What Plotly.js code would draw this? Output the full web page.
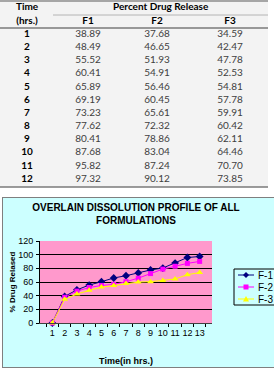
<!DOCTYPE html>
<html>
<head>
<meta charset="utf-8">
<script src="https://cdn.plot.ly/plotly-3.0.1.min.js"></script>
<style>
  html, body { margin: 0; padding: 0; background: #ffffff; width: 274px; height: 368px; overflow: hidden; }
  #table { position: absolute; left: 0; top: 0; width: 274px; height: 192px; }
  #chart { position: absolute; left: 2px; top: 197px; width: 273px; height: 169px; border: 1px solid #7f7f7f; }
</style>
</head>
<body>
<div id="table"></div>
<div id="chart"></div>
<script>
// ---- data ----
const hours = [1, 2, 3, 4, 5, 6, 7, 8, 9, 10, 11, 12];
const seriesHeaders = ['F1', 'F2', 'F3'];
const f1 = [38.89, 48.49, 55.52, 60.41, 65.89, 69.19, 73.23, 77.62, 80.41, 87.68, 95.82, 97.32];
const f2 = [37.68, 46.65, 51.93, 54.91, 56.46, 60.45, 65.61, 72.32, 78.86, 83.04, 87.24, 90.12];
const f3 = [34.59, 42.47, 47.78, 52.53, 54.81, 57.78, 59.91, 60.42, 62.11, 64.46, 70.70, 73.85];
const startRelease = [0];
const chartCategories = ['1', '2', '3', '4', '5', '6', '7', '8', '9', '10', '11', '12', '13'];
const legendLabels = ['F-1', 'F-2', 'F-3'];
const yTicks = [0, 20, 40, 60, 80, 100, 120];
const tableTitles = ['Time', '(hrs.)', 'Percent Drug Release'];
const chartTitle = 'OVERLAIN DISSOLUTION PROFILE OF ALL<br>FORMULATIONS';
const xTitle = 'Time(in hrs.)';
const yTitle = '% Drug Relased';

// ---- table ----
const TW = 274, TH = 192;
const tx = x => x / TW, ty = y => 1 - y / TH;
const rule = (x0, x1, y, color, width) => ({
  type: 'line', xref: 'paper', yref: 'paper',
  x0: tx(x0), x1: tx(x1), y0: ty(y), y1: ty(y),
  line: { color: color, width: width }
});
const tableFont = 'Lato, "Open Sans", sans-serif';

const tableTrace = {
  type: 'table',
  domain: { x: [0, tx(268)], y: [ty(191), ty(8)] },
  columnwidth: [54, 68, 70, 76],
  header: {
    values: [tableTitles[1]].concat(seriesHeaders),
    height: 13.5,
    align: 'center',
    fill: { color: 'rgba(0,0,0,0)' },
    line: { width: 0, color: 'rgba(0,0,0,0)' },
    font: { family: tableFont, size: 10, color: '#000000', weight: 'bold' }
  },
  cells: {
    values: [hours.map(String),
             f1.map(v => v.toFixed(2)),
             f2.map(v => v.toFixed(2)),
             f3.map(v => v.toFixed(2))],
    height: 13.15,
    align: 'center',
    fill: { color: 'rgba(0,0,0,0)' },
    line: { width: 0, color: 'rgba(0,0,0,0)' },
    font: { family: tableFont, size: 10,
            color: ['#000000', '#404040', '#404040', '#404040'],
            weight: ['bold', 'normal', 'normal', 'normal'] }
  }
};

Plotly.newPlot('table', [tableTrace], {
  width: TW, height: TH,
  margin: { l: 0, r: 0, t: 0, b: 0 },
  paper_bgcolor: '#ffffff',
  showlegend: false,
  shapes: [
    { type: 'rect', xref: 'paper', yref: 'paper', layer: 'below',
      x0: 0, x1: tx(268), y0: ty(187), y1: ty(0),
      fillcolor: '#f3f3f3', line: { width: 0 } },
    rule(0, 268, 1, '#a6a6a6', 2),
    rule(53, 268, 15, '#b4b4b4', 1),
    rule(0, 268, 28, '#7a7a7a', 1.5),
    rule(0, 268, 187, '#7a7a7a', 1.5)
  ],
  annotations: [
    { text: '<b>' + tableTitles[0] + '</b>', xref: 'paper', yref: 'paper',
      x: tx(27), y: ty(6.5), showarrow: false, xanchor: 'center', yanchor: 'middle',
      font: { family: tableFont, size: 10, color: '#000000' } },
    { text: '<b>' + tableTitles[2] + '</b>', xref: 'paper', yref: 'paper',
      x: tx(160.5), y: ty(6.5), showarrow: false, xanchor: 'center', yanchor: 'middle',
      font: { family: tableFont, size: 10, color: '#000000' } }
  ]
}, { displayModeBar: false, staticPlot: true });

// ---- chart ----
const CW = 273, CH = 169;
const cx = x => x / CW, cy = y => 1 - y / CH;
const axisFont = { family: '"Liberation Sans", Arial, sans-serif', size: 9, color: '#000000' };
const boldFont = (size) => ({ family: '"Liberation Sans", Arial, sans-serif', size: size, color: '#000000', weight: 'bold' });

const seriesStyles = [
  { color: '#000080', symbol: 'diamond', size: 6 },
  { color: '#ff00ff', symbol: 'square', size: 5 },
  { color: '#ffff00', symbol: 'triangle-up', size: 6 }
];
const seriesValues = [f1, f2, f3];

const traces = seriesValues.map((vals, i) => ({
  type: 'scatter', mode: 'lines+markers',
  name: legendLabels[i],
  x: chartCategories,
  y: startRelease.concat(vals),
  line: { color: seriesStyles[i].color, width: 1 },
  marker: { color: seriesStyles[i].color, symbol: seriesStyles[i].symbol, size: seriesStyles[i].size,
            line: { width: 0 } },
  cliponaxis: false
}));

// legend drawn as layout shapes and annotations
const legendShapes = [
  { type: 'rect', xref: 'paper', yref: 'paper',
    x0: cx(231), x1: cx(280), y0: cy(107), y1: cy(71),
    fillcolor: '#ccffff', line: { color: '#000000', width: 1 } }
];
const legendAnnotations = [];
const legendRows = [77, 89, 101];
function markerPath(kind, x, y) {
  if (kind === 'diamond') {
    return `M${cx(x - 3)},${cy(y)} L${cx(x)},${cy(y - 3)} L${cx(x + 3)},${cy(y)} L${cx(x)},${cy(y + 3)} Z`;
  }
  if (kind === 'square') {
    return `M${cx(x - 2.5)},${cy(y - 2.5)} L${cx(x + 2.5)},${cy(y - 2.5)} L${cx(x + 2.5)},${cy(y + 2.5)} L${cx(x - 2.5)},${cy(y + 2.5)} Z`;
  }
  return `M${cx(x - 3)},${cy(y + 2.5)} L${cx(x + 3)},${cy(y + 2.5)} L${cx(x)},${cy(y - 3)} Z`;
}
legendRows.forEach((ry, i) => {
  const s = seriesStyles[i];
  legendShapes.push({ type: 'line', xref: 'paper', yref: 'paper',
    x0: cx(235), x1: cx(251), y0: cy(ry), y1: cy(ry), line: { color: s.color, width: 1 } });
  legendShapes.push({ type: 'path', xref: 'paper', yref: 'paper',
    path: markerPath(s.symbol, 243, ry), fillcolor: s.color, line: { width: 0 } });
  legendAnnotations.push({ text: legendLabels[i], xref: 'paper', yref: 'paper',
    x: cx(253), y: cy(ry), xanchor: 'left', yanchor: 'middle', showarrow: false,
    font: { family: '"Liberation Sans", Arial, sans-serif', size: 10, color: '#000000' } });
});

const chartLayout = {
  width: CW, height: CH,
  margin: { l: 0, r: 0, t: 0, b: 0 },
  paper_bgcolor: '#ccffff',
  plot_bgcolor: '#ff99cc',
  showlegend: false,
  title: {
    text: chartTitle,
    font: boldFont(10),
    x: cx(133), xanchor: 'center', xref: 'paper',
    y: cy(12.5), yanchor: 'middle', yref: 'container'
  },
  xaxis: {
    domain: [cx(37), cx(209)],
    type: 'category',
    categoryarray: chartCategories,
    tickson: 'boundaries',
    tickangle: 0,
    ticks: 'outside', ticklen: 3, tickwidth: 1, tickcolor: '#000000',
    showgrid: false, zeroline: false,
    showline: true, linecolor: '#404040', linewidth: 1,
    tickfont: axisFont,
    ticklabelstandoff: 1,
    automargin: false,
    title: { text: xTitle, font: boldFont(9), standoff: 20 }
  },
  yaxis: {
    domain: [cy(125), cy(43)],
    range: [0, 120],
    tickvals: yTicks,
    ticks: 'outside', ticklen: 3, tickwidth: 1, tickcolor: '#000000',
    showgrid: true, gridcolor: '#000000', gridwidth: 1,
    zeroline: false,
    showline: true, linecolor: '#000000', linewidth: 1,
    tickfont: axisFont,
    ticklabelstandoff: 1,
    automargin: false,
    title: { text: yTitle, font: boldFont(8), standoff: 1 }
  },
  shapes: legendShapes,
  annotations: legendAnnotations
};

Plotly.newPlot('chart', traces, chartLayout, { displayModeBar: false, staticPlot: true });
</script>
</body>
</html>
